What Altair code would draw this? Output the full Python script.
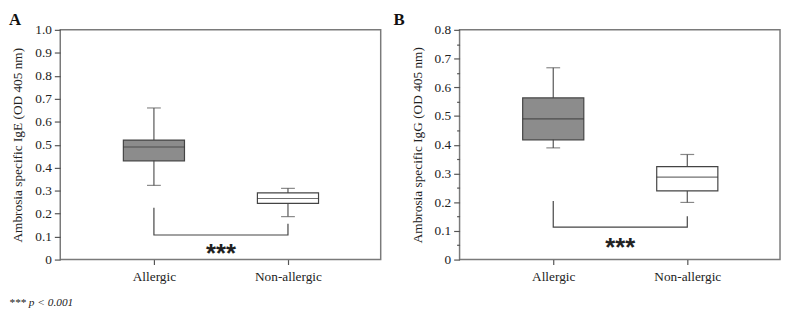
import altair as alt
import pandas as pd

# ---- data ----
groups = ["Allergic", "Non-allergic"]
positions = [1, 2]

ige_min = [0.323, 0.187]
ige_q1 = [0.430, 0.245]
ige_med = [0.490, 0.266]
ige_q3 = [0.520, 0.290]
ige_max = [0.660, 0.310]
ige_bracket = [0.226, 0.107, 0.107, 0.156]
ige_star_y = 0.054

igg_min = [0.389, 0.199]
igg_q1 = [0.417, 0.239]
igg_med = [0.490, 0.287]
igg_q3 = [0.563, 0.324]
igg_max = [0.668, 0.366]
igg_bracket = [0.204, 0.113, 0.113, 0.151]
igg_star_y = 0.065

box_fill = ["#8c8c8c", "#ffffff"]

W, H = 325, 233
SERIF = "Liberation Serif"

label_expr = "datum.value == 1 ? '%s' : '%s'" % (groups[0], groups[1])


def panel(letter, mins, q1s, meds, q3s, maxs, bracket, star_y, ymax, ytitle, minor, footnote):
    df = pd.DataFrame({
        "group": groups, "pos": positions, "lo": mins, "q1": q1s,
        "med": meds, "q3": q3s, "hi": maxs, "fill": box_fill,
    })
    xscale = alt.Scale(domain=[0.338, 2.655])
    yscale = alt.Scale(domain=[0, ymax], nice=False)

    if minor:
        yvals = [round(i * 0.05, 2) for i in range(int(round(ymax / 0.05)) + 1)]
        tick_size = {"condition": {"test": "round(datum.value*100) % 10 != 0", "value": 3}, "value": 6}
    else:
        yvals = [round(i * 0.1, 1) for i in range(int(round(ymax / 0.1)) + 1)]
        tick_size = 6

    yaxis = alt.Axis(
        values=yvals, title=ytitle, grid=False, domain=False,
        labelExpr="round(datum.value*100) % 10 != 0 ? '' : (datum.value == 0 ? '0' : format(datum.value, '.1f'))",
        tickSize=tick_size, labelPadding=3, titlePadding=10,
    )
    xaxis = alt.Axis(values=positions, labelExpr=label_expr, title=None, grid=False,
                     domain=False, tickSize=5, labelPadding=5)

    def X(f):
        return alt.X(f, scale=xscale, axis=xaxis)

    def Y(f):
        return alt.Y(f, scale=yscale, axis=yaxis)

    base = alt.Chart(df)
    whisk = base.mark_rule(color="#555555", strokeWidth=1.2).encode(
        x=X("pos:Q"), y=Y("lo:Q"), y2="hi:Q",
    )
    cap_hi = base.mark_tick(size=14, thickness=1.2, orient="horizontal", color="#555555").encode(
        x=X("pos:Q"), y=Y("hi:Q"))
    cap_lo = base.mark_tick(size=14, thickness=1.2, orient="horizontal", color="#555555").encode(
        x=X("pos:Q"), y=Y("lo:Q"))
    box = base.mark_bar(size=62, stroke="#444444", strokeWidth=1.2).encode(
        x=X("pos:Q"), y=Y("q1:Q"), y2="q3:Q",
        fill=alt.Fill("fill:N", scale=None),
    )
    med = base.mark_tick(size=62, thickness=1.2, orient="horizontal", color="#333333").encode(
        x=X("pos:Q"), y=Y("med:Q"))

    bdf = pd.DataFrame({"bx": [1, 1, 2, 2], "by": bracket, "o": [0, 1, 2, 3]})
    br = alt.Chart(bdf).mark_line(color="#444444", strokeWidth=1.2).encode(
        x=X("bx:Q"), y=Y("by:Q"), order="o:Q")

    sdf = pd.DataFrame({"sx": [1.5], "sy": [star_y], "t": ["***"]})
    stars = alt.Chart(sdf).mark_text(font="Liberation Sans", fontWeight="bold", fontSize=26,
                                     color="#222222", baseline="middle", dy=7).encode(
        x=X("sx:Q"), y=Y("sy:Q"), text="t:N")

    ldf = pd.DataFrame({"t": [letter]})
    lx = -52 if letter == "A" else -67
    let = alt.Chart(ldf).mark_text(font=SERIF, fontWeight="bold", fontSize=17, color="#111111",
                                   align="left", baseline="top").encode(
        x=alt.value(lx), y=alt.value(-18), text="t:N")

    layers = [whisk, cap_hi, cap_lo, box, med, br, stars, let]
    if footnote:
        fdf = pd.DataFrame({"t": [footnote]})
        fn = alt.Chart(fdf).mark_text(font=SERIF, fontStyle="italic", fontSize=11.5, color="#222222",
                                      align="left", baseline="alphabetic").encode(
            x=alt.value(-52), y=alt.value(H + 47), text="t:N")
        layers.append(fn)

    return alt.layer(*layers).properties(width=W, height=H)


pa = panel("A", ige_min, ige_q1, ige_med, ige_q3, ige_max, ige_bracket, ige_star_y, 1.0,
           "Ambrosia specific IgE (OD 405 nm)", False, "*** p < 0.001")
pb = panel("B", igg_min, igg_q1, igg_med, igg_q3, igg_max, igg_bracket, igg_star_y, 0.8,
           "Ambrosia specific IgG (OD 405 nm)", True, None)

chart = alt.hconcat(pa, pb, spacing=11).properties(padding=0).configure_view(
    stroke="#7a7a7a", strokeWidth=1.5
).configure_axis(
    labelFont=SERIF, labelFontSize=13.5, labelColor="#222222",
    titleFont=SERIF, titleFontSize=13.5, titleFontWeight="normal", titleColor="#222222",
    tickColor="#555555", tickWidth=1.2,
)

chart.save("out.html", embed_options={"renderer": "svg", "actions": False})
